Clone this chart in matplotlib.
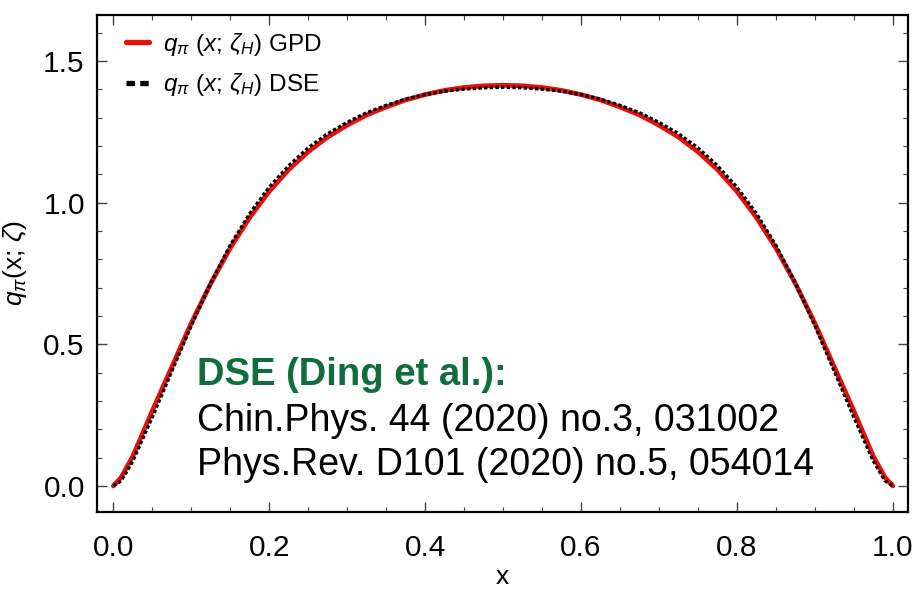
import matplotlib
matplotlib.use("Agg")
import matplotlib.pyplot as plt
from matplotlib.ticker import MultipleLocator

plt.rcParams['font.family'] = ['Liberation Sans', 'DejaVu Sans']
plt.rcParams['mathtext.fontset'] = 'custom'
plt.rcParams['mathtext.rm'] = 'Liberation Sans'
plt.rcParams['mathtext.it'] = 'Liberation Sans:italic'
plt.rcParams['mathtext.bf'] = 'Liberation Sans:bold'

# pion valence distribution at the hadronic scale
x_vals = [0.0, 0.01, 0.025, 0.05, 0.075, 0.1, 0.125, 0.15, 0.175, 0.2, 0.225,
          0.25, 0.275, 0.3, 0.325, 0.35, 0.375, 0.4, 0.425, 0.45, 0.475, 0.5,
          0.525, 0.55, 0.575, 0.6, 0.625, 0.65, 0.675, 0.7, 0.725, 0.75, 0.775,
          0.8, 0.825, 0.85, 0.875, 0.9, 0.925, 0.95, 0.975, 0.99, 1.0]

q_gpd = [0.0, 0.03, 0.105, 0.265, 0.42, 0.575, 0.715, 0.84, 0.948, 1.04, 1.117,
         1.18, 1.232, 1.274, 1.31, 1.338, 1.363, 1.382, 1.397, 1.407, 1.413, 1.415,
         1.413, 1.407, 1.397, 1.382, 1.363, 1.338, 1.31, 1.274, 1.232, 1.18, 1.117,
         1.04, 0.948, 0.84, 0.715, 0.575, 0.42, 0.265, 0.105, 0.03, 0.0]

q_dse = [0.0, 0.018, 0.088, 0.243, 0.405, 0.566, 0.717, 0.850, 0.962, 1.055, 1.131,
         1.194, 1.244, 1.284, 1.318, 1.344, 1.366, 1.382, 1.394, 1.401, 1.406, 1.408,
         1.406, 1.401, 1.394, 1.382, 1.366, 1.344, 1.318, 1.284, 1.244, 1.194, 1.131,
         1.055, 0.962, 0.850, 0.717, 0.566, 0.405, 0.243, 0.088, 0.018, 0.0]

fig = plt.figure(figsize=(9.14, 5.91), dpi=100)
ax = fig.add_axes([0.1065, 0.1337, 0.8865, 0.8409])

ax.plot(x_vals, q_gpd, color='#e8100c', lw=3.4, solid_capstyle='round',
        label=r'$q_\pi\ (x;\,\zeta_H)$ GPD')
ax.plot(x_vals, q_dse, color='black', lw=2.4, linestyle=(0, (1.0, 0.7)),
        label=r'$q_\pi\ (x;\,\zeta_H)$ DSE')

ax.set_xlim(-0.0205, 1.019)
ax.set_ylim(-0.092, 1.663)
ax.xaxis.set_major_locator(MultipleLocator(0.2))
ax.xaxis.set_minor_locator(MultipleLocator(0.05))
ax.yaxis.set_major_locator(MultipleLocator(0.5))
ax.yaxis.set_minor_locator(MultipleLocator(0.1))
ax.xaxis.set_major_formatter(plt.FormatStrFormatter('%.1f'))
ax.yaxis.set_major_formatter(plt.FormatStrFormatter('%.1f'))

ax.tick_params(which='both', direction='in', top=True, right=True,
               color='#444444', labelsize=21.5)
ax.tick_params(which='major', length=7, width=1.0)
ax.tick_params(which='minor', length=3.5, width=0.8)
ax.tick_params(axis='x', which='major', pad=16)
ax.tick_params(axis='y', which='major', pad=9)
for s in ax.spines.values():
    s.set_linewidth(1.6)

ax.set_xlabel('x', fontsize=19, labelpad=2)
ax.set_ylabel(r'$q_\pi$(x; $\zeta$)', fontsize=19, labelpad=10)

leg = ax.legend(loc='upper left', fontsize=17.5, frameon=False,
                handlelength=0.95, handletextpad=0.6, labelspacing=0.55,
                borderpad=0, borderaxespad=0, bbox_to_anchor=(0.035, 0.968))
leg.legend_handles[0].set_linewidth(3.8)
leg.legend_handles[1].set_linewidth(3.8)
leg.legend_handles[1].set_linestyle((0, (1.6, 1.0)))

ax.text(0.1235, 0.2555, 'DSE (Ding et al.):', transform=ax.transAxes,
        fontsize=27.5, fontweight='bold', color='#0f6e3c', va='baseline')
ax.text(0.1235, 0.1636, 'Chin.Phys. 44 (2020) no.3, 031002',
        transform=ax.transAxes, fontsize=27, va='baseline')
ax.text(0.1235, 0.0744, 'Phys.Rev. D101 (2020) no.5, 054014',
        transform=ax.transAxes, fontsize=27, va='baseline')

fig.savefig('out.png', dpi=100)
